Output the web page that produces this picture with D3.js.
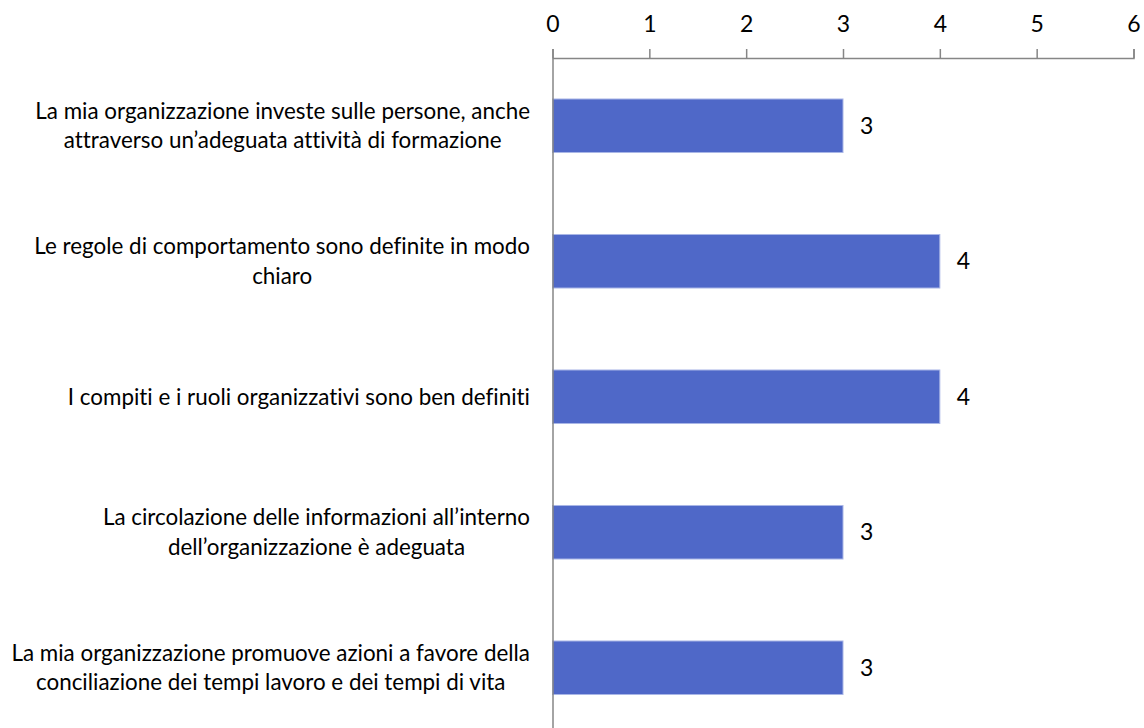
<!DOCTYPE html>
<html><head><meta charset="utf-8">
<script src="https://cdn.jsdelivr.net/npm/d3@7"></script>
<style>body{margin:0;background:#fff}svg{display:block}text{font-family:Lato, "Open Sans", sans-serif;fill:#000;font-variant-ligatures:none;font-feature-settings:"liga" 0,"dlig" 0}</style>
</head><body><svg id="c" width="1144" height="728"></svg>
<script>
const categories = [
  "La mia organizzazione investe sulle persone, anche\nattraverso un\u2019adeguata attività di formazione",
  "Le regole di comportamento sono definite in modo\nchiaro",
  "I compiti e i ruoli organizzativi sono ben definiti",
  "La circolazione delle informazioni all\u2019interno\ndell\u2019organizzazione è adeguata",
  "La mia organizzazione promuove azioni a favore della\nconciliazione dei tempi lavoro e dei tempi di vita"
];
const values = [3, 4, 4, 3, 3];
const tickValues = [0, 1, 2, 3, 4, 5, 6];

const svg = d3.select("#c");
const x = d3.scaleLinear().domain([0, 6]).range([552.5, 1133.5]);
const y = d3.scaleBand().domain(categories).range([58, 735.5]).paddingInner(0.605).paddingOuter(0.3025);
const fs = 22.4;
const nfs = 23;

// bars
svg.append("g").selectAll("rect").data(values).join("rect")
  .attr("x", x(0)).attr("y", (d,i)=>y(categories[i]))
  .attr("width", d=>x(d)-x(0)).attr("height", y.bandwidth())
  .attr("fill", "#4F68C8").attr("stroke", "#AAB6E6").attr("stroke-width", 1);

// value labels
svg.append("g").selectAll("text").data(values).join("text")
  .attr("x", d=>x(d)+17).attr("y", (d,i)=>y(categories[i])+y.bandwidth()/2)
  .attr("dy", "0.35em").style("font-size", nfs+"px").text(d=>d);

// top axis
const ax = svg.append("g").attr("transform","translate(0,58)")
  .call(d3.axisTop(x).tickValues(tickValues).tickSize(9).tickPadding(17).tickFormat(d3.format("d")));
ax.select(".domain").attr("stroke","#868686").attr("stroke-width",1.5);
ax.selectAll(".tick line").attr("stroke","#868686").attr("stroke-width",1.5);
ax.selectAll(".tick text").style("font-size", nfs+"px").attr("fill","#000").style("font-family","Lato, sans-serif");

// left axis line
const ay = svg.append("g").attr("transform","translate("+x(0)+",0)")
  .call(d3.axisLeft(y).tickSize(0).tickFormat(""));
ay.select(".domain").attr("stroke","#868686").attr("stroke-width",1.5);

// category labels
const lh = 29.5;
const lg = svg.append("g");
categories.forEach(c=>{
  const lines = c.split("\n");
  const g = lg.append("g");
  const cy = y(c) + y.bandwidth()/2;
  const ts = lines.map((l,i)=> g.append("text")
    .attr("y", cy + (i - (lines.length-1)/2)*lh).attr("dy","0.35em")
    .style("font-size", fs+"px").attr("text-anchor","middle").text(l));
  const w = d3.max(ts, t=>t.node().getComputedTextLength());
  ts.forEach(t=>t.attr("x", 530 - w/2));
});
</script></body></html>
